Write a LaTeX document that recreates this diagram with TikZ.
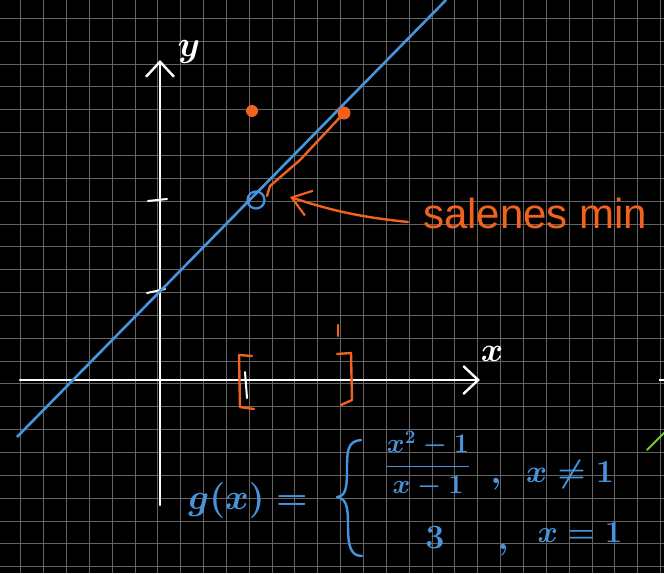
\RequirePackage{fix-cm}
\documentclass[tikz,border=0pt]{standalone}
\usepackage{amsmath}
\usepackage{fontspec}
\setmainfont{Liberation Sans}
\usetikzlibrary{arrows.meta}
\definecolor{gridc}{RGB}{100,100,100}
\definecolor{penblue}{RGB}{72,148,220}
\definecolor{penorange}{RGB}{240,98,30}
\definecolor{pengreen}{RGB}{110,210,40}
\tikzset{
  gridline/.style={gridc, line width=0.9pt},
  axisline/.style={white, line width=2.6pt, line cap=round},
  barb/.style={-{Straight Barb[length=15pt,width=28pt,line width=2.4pt]}},
  blueline/.style={penblue, line width=2.6pt},
  orangepen/.style={penorange, line width=2.4pt, line cap=round, line join=round},
  bluepen/.style={penblue, line width=2.4pt, line cap=round, line join=round},
  bluetext/.style={penblue, inner sep=0pt},
}
\begin{document}
\begin{tikzpicture}[x=1pt,y=-1pt]
\fill[black] (0,0) rectangle (664,573);
\useasboundingbox (0,0) rectangle (664,573);
% grid
\foreach \i in {0,...,28} \draw[gridline] ({20.7+22.85*\i},0) -- ++(0,573);
\foreach \j in {0,...,24} \draw[gridline] (0,{18.3+22.85*\j}) -- ++(664,0);
% axes
\coordinate (xs) at (20,380);
\coordinate (xe) at (480,380);
\coordinate (ys) at (160,505);
\coordinate (ye) at (160,60);
\draw[axisline, barb] (xs) -- (xe);
\draw[axisline, barb] (ys) -- (ye);
\node[white, inner sep=0pt, font=\fontsize{36}{38}\selectfont\boldmath] (ylab) at (189,52) {$y$};
\node[white, inner sep=0pt, font=\fontsize{34}{36}\selectfont\boldmath] (xlab) at (492,354) {$x$};
% ticks
\draw[white, line width=2pt, line cap=round] (148,201) -- (167,199);
\draw[white, line width=2pt, line cap=round] (147,293) -- (165,289);
% blue line y = x + 1
\coordinate (la) at (17,437);
\coordinate (lb) at (446,0);
\draw[blueline] (la) -- (lb);
% points
\node[circle, draw=penblue, line width=2.2pt, minimum size=17pt, inner sep=0pt] (hole) at (256,200) {};
\node[circle, fill=penorange, minimum size=12pt, inner sep=0pt] (p1) at (252,111) {};
\node[circle, fill=penorange, minimum size=13pt, inner sep=0pt] (p2) at (344,113) {};
\draw[orangepen] (267,196) -- (270,186) -- (300,160) -- (p2.center);
% brackets
\draw[orangepen] (252,356) -- (239,355) -- (240,407) -- (254,409);
\draw[white, line width=2pt, line cap=round] (245,372) -- (247,398);
\draw[orangepen] (337,354) -- (351,353) -- (352,400) -- (341,405);
\draw[orangepen] (338,325) -- (338,336);
% label and arrow
\node[penorange, inner sep=0pt, anchor=base west, font=\fontsize{42}{46}\selectfont] (lab) at (423,228) {salenes min};
\coordinate (tip) at (290,197);
\draw[orangepen, -{Straight Barb[length=18pt,width=26pt,line width=2.2pt]}] ([xshift=-15pt,yshift=6pt]lab.base west) to[bend left=6] (tip);
% formula
\node[bluetext, font=\fontsize{36}{38}\selectfont\boldmath] (gx) at (248,500) {$g(x)=$};
\draw[bluepen] (361,440) .. controls (347,441) and (347,452) .. (347,470)
  .. controls (347,490) and (345,496) .. (337,497)
  .. controls (346,499) and (348,505) .. (348,525)
  .. controls (348,545) and (350,556) .. (362,556);
\node[bluetext, font=\fontsize{27}{29}\selectfont\boldmath] (frac) at (428,464) {$\dfrac{x^2-1}{x-1}$};
\node[bluetext, font=\fontsize{34}{36}\selectfont\boldmath] (c1) at (496,484) {$,$};
\node[bluetext, font=\fontsize{32}{34}\selectfont\boldmath] (cond1) at (570,474) {$x\neq 1$};
\node[bluetext, font=\fontsize{34}{36}\selectfont\boldmath] (three) at (435,538) {$3$};
\node[bluetext, font=\fontsize{34}{36}\selectfont\boldmath] (c2) at (503,550) {$,$};
\node[bluetext, font=\fontsize{31}{33}\selectfont\boldmath] (cond2) at (580,533) {$x=1$};
% stray marks at right edge
\draw[pengreen, line width=2pt, line cap=round] (647,450) -- (666,431);
\draw[white, line width=2pt] (659,380) -- (666,380);
\end{tikzpicture}
\end{document}
